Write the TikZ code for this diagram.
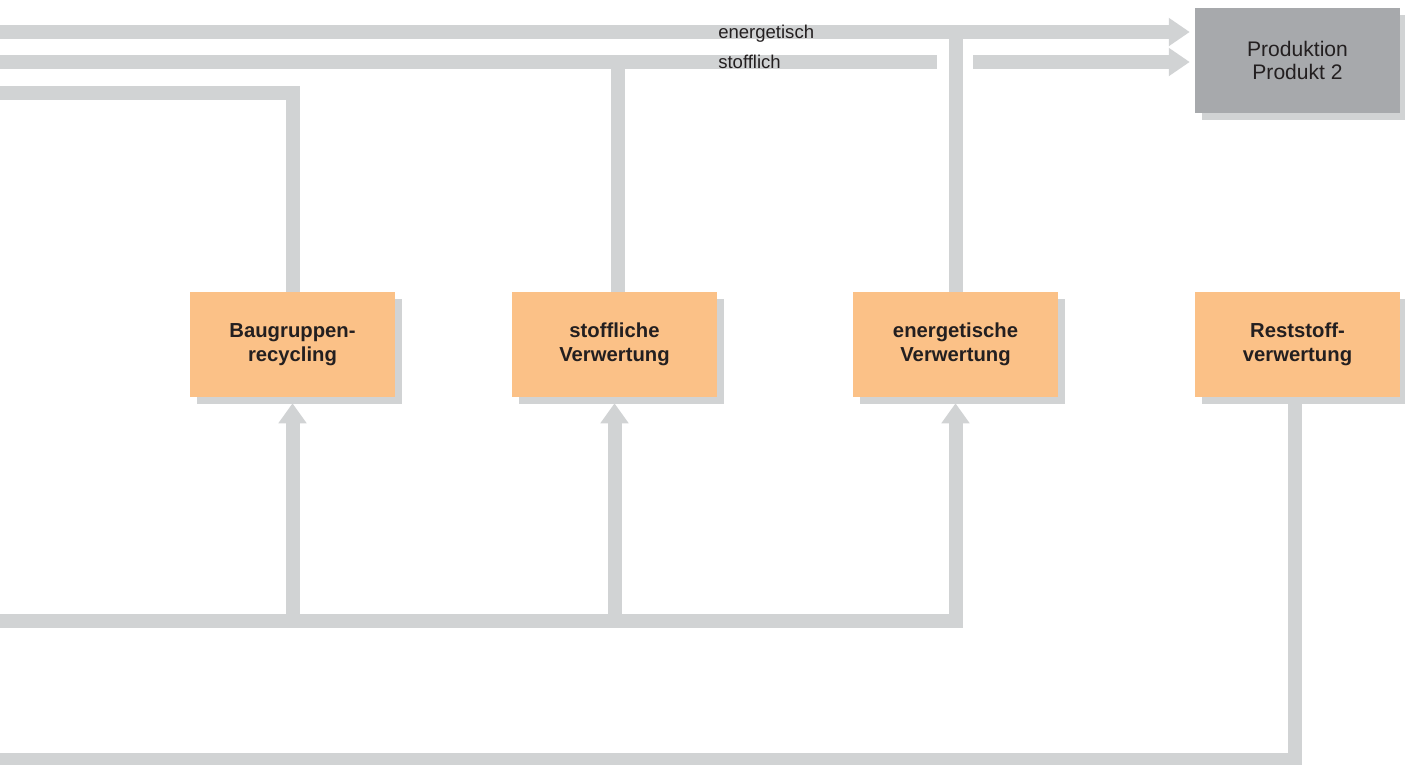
\documentclass[tikz,border=0pt]{standalone}
\usepackage{fontspec}
\setmainfont{Liberation Sans}
\usetikzlibrary{arrows.meta,shadows,calc}
\definecolor{flowgray}{HTML}{D1D3D4}
\definecolor{boxorange}{HTML}{FBC187}
\definecolor{prodgray}{HTML}{A7A9AC}
\definecolor{textdark}{HTML}{231F20}
\begin{document}
\begin{tikzpicture}[x=0.75pt,y=-0.75pt,
  flow/.style={draw=flowgray,line width=10.5pt,line join=miter},
  tipR/.style={-{Triangle[length=15.75pt,width=20.25pt]}},
  tipU/.style={-{Triangle[length=15pt,width=20.25pt]}},
  boxbase/.style={minimum width=153.75pt,minimum height=78.75pt,inner sep=0pt,
    align=center,text=textdark,
    drop shadow={shadow xshift=5.4pt,shadow yshift=-5.6pt,fill=flowgray,opacity=1}},
  stage/.style={boxbase,fill=boxorange,font=\bfseries\fontsize{15.2}{18}\selectfont},
  target/.style={boxbase,fill=prodgray,font=\fontsize{15.8}{17.25}\selectfont},
  flowlabel/.style={anchor=base west,inner sep=0pt,text=textdark,font=\fontsize{13.9}{16}\selectfont}
]
\useasboundingbox (0,0) rectangle (1405,764);

% process boxes
\node[stage]  (baug) at (292.5,344.5) {Baugruppen-\\recycling};
\node[stage]  (stof) at (614.5,344.5) {stoffliche\\Verwertung};
\node[stage]  (ener) at (955.5,344.5) {energetische\\Verwertung};
\node[stage]  (rest) at (1297.5,344.5) {Reststoff-\\verwertung};
\node[target] (prod) at (1297.5,60.5) {Produktion\\Produkt 2};

% incoming ends at the left edge
\coordinate (inE) at (-10,32);
\coordinate (inS) at (-10,62);
\coordinate (inB) at (-10,92.5);
\coordinate (inL) at (-10,621);
\coordinate (inR) at (-10,760);
\coordinate (gapL) at (937,62);
\coordinate (gapR) at (973,62);

% points where the verticals leave the boxes and meet the lines
\coordinate (stofTop) at ($(stof.north)+(3,0)$);
\coordinate (stofJoin) at (stofTop |- inS);
\coordinate (enerJoin) at ($(ener.north |- inE)+(0,-7)$);
\coordinate (restOut) at ($(rest.south)+(-2.5,0)$);
\coordinate (restCorner) at (restOut |- inR);
\coordinate (prodE) at ($(prod.west)+(-5,-28.5)$);
\coordinate (prodS) at ($(prod.west)+(-5,1.5)$);

% upper return lines
\draw[flow,tipR] (inE) -- (prodE);
\draw[flow] (inS) -- (gapL);
\draw[flow,tipR] (gapR) -- (prodS);
\draw[flow] (inB) -- (baug.north |- inB) -- (baug.north);
\draw[flow] (stofTop) -- (stofJoin);
\draw[flow] (ener.north) -- (enerJoin);

% lower feed lines
\draw[flow,tipU] (inL) -- (ener.south |- inL) -- ($(ener.south)+(0,6)$);
\draw[flow,tipU] (baug.south |- inL) -- ($(baug.south)+(0,6)$);
\draw[flow,tipU] (stof.south |- inL) -- ($(stof.south)+(0,6)$);
\draw[flow] (restOut) -- (restCorner) -- (inR);

% flow labels
\node[flowlabel] (lblE) at (718,38.3) {energetisch};
\node[flowlabel] (lblS) at (718,68.3) {stofflich};
\end{tikzpicture}
\end{document}
